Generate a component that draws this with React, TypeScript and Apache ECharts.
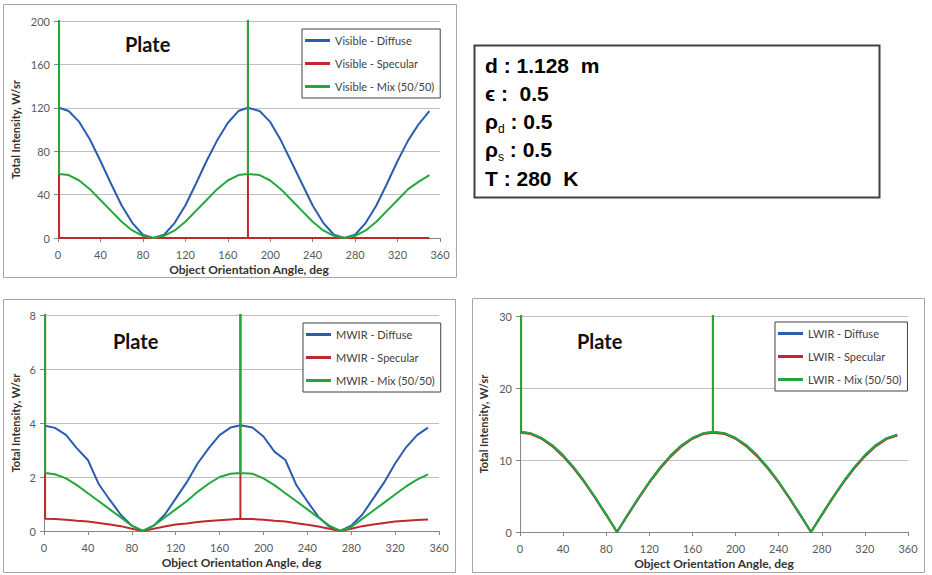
import React, { useEffect, useRef } from "react";
import * as echarts from "echarts";

// Sample angles (deg); the specular peaks sit at 0 and 179 (179 repeated so the spike is one thin vertical)
const angles = [0, 1, 10, 20, 30, 40, 50, 60, 70, 80, 90, 100, 110, 120, 130, 140, 150, 160, 170, 179, 179, 179, 190, 200, 210, 220, 230, 240, 250, 260, 270, 280, 290, 300, 310, 320, 330, 340, 350];

// Visible band, W/sr (5000 = specular spike, far off scale)
const visibleDiffuse = [120, 120, 117, 107, 91, 71, 50, 30, 14, 3, 0, 3, 14, 30, 50, 71, 90, 106, 117, 120, 120, 120, 117, 107, 90, 70, 50, 30, 14, 3, 0, 3, 14, 30, 50, 71, 90, 105, 117];
const visibleSpecular = [5000, 0, 0, 0, 0, 0, 0, 0, 0, 0, 0, 0, 0, 0, 0, 0, 0, 0, 0, 0, 5000, 0, 0, 0, 0, 0, 0, 0, 0, 0, 0, 0, 0, 0, 0, 0, 0, 0, 0];
const visibleMix = [5000, 59, 58, 53, 45, 35, 25, 15, 7, 2, 0, 2, 7, 15, 25, 35, 45, 53, 58, 59, 5000, 59, 58, 53, 45, 35, 25, 15, 7, 2, 0, 2, 7, 15, 25, 35, 45, 52, 58];

// MWIR band, W/sr
const mwirDiffuse = [3.9, 3.9, 3.82, 3.56, 3.06, 2.63, 1.73, 1.15, 0.6, 0.2, 0, 0.2, 0.6, 1.2, 1.8, 2.5, 3.06, 3.55, 3.83, 3.92, 3.92, 3.92, 3.83, 3.5, 2.94, 2.63, 1.7, 1.1, 0.53, 0.16, 0, 0.2, 0.6, 1.2, 1.8, 2.5, 3.1, 3.55, 3.83];
const mwirSpecular = [5000, 0.45, 0.44, 0.42, 0.38, 0.35, 0.3, 0.24, 0.18, 0.08, 0, 0.08, 0.17, 0.24, 0.28, 0.33, 0.37, 0.4, 0.43, 0.45, 5000, 0.45, 0.44, 0.42, 0.38, 0.35, 0.29, 0.23, 0.17, 0.08, 0, 0.08, 0.18, 0.24, 0.3, 0.35, 0.38, 0.41, 0.43];
const mwirMix = [5000, 2.15, 2.1, 1.95, 1.7, 1.4, 1.1, 0.8, 0.5, 0.2, 0, 0.2, 0.5, 0.8, 1.1, 1.45, 1.75, 2.0, 2.12, 2.15, 5000, 2.15, 2.12, 1.95, 1.7, 1.4, 1.1, 0.8, 0.5, 0.2, 0, 0.15, 0.45, 0.75, 1.05, 1.35, 1.65, 1.9, 2.1];

// LWIR band, W/sr
const lwirDiffuse = [13.9, 13.9, 13.7, 13.06, 12.04, 10.65, 8.93, 6.95, 4.75, 2.41, 0, 2.41, 4.75, 6.95, 8.93, 10.65, 12.04, 13.06, 13.7, 13.9, 13.9, 13.9, 13.7, 13.06, 12.04, 10.65, 8.93, 6.95, 4.75, 2.41, 0, 2.41, 4.75, 6.95, 8.93, 10.65, 12.04, 13.0, 13.5];
const lwirSpecular = [5000, 13.8, 13.6, 12.95, 11.9, 10.5, 8.8, 6.85, 4.65, 2.35, 0, 2.35, 4.65, 6.85, 8.8, 10.5, 11.9, 12.95, 13.6, 13.8, 5000, 13.8, 13.6, 12.95, 11.9, 10.5, 8.8, 6.85, 4.65, 2.35, 0, 2.35, 4.65, 6.85, 8.8, 10.5, 11.9, 12.9, 13.4];
const lwirMix = [5000, 13.9, 13.7, 13.06, 12.04, 10.65, 8.93, 6.95, 4.75, 2.41, 0, 2.41, 4.75, 6.95, 8.93, 10.65, 12.04, 13.06, 13.7, 13.9, 5000, 13.9, 13.7, 13.06, 12.04, 10.65, 8.93, 6.95, 4.75, 2.41, 0, 2.41, 4.75, 6.95, 8.93, 10.65, 12.04, 13.0, 13.5];

const bands = ["Visible", "MWIR", "LWIR"];
const kinds = ["Diffuse", "Specular", "Mix (50/50)"];
const yMax = [200, 8, 30];
const yInterval = [40, 2, 10];
const xTicks = { min: 0, max: 360, interval: 40 };
const bandData = [
  [visibleDiffuse, visibleSpecular, visibleMix],
  [mwirDiffuse, mwirSpecular, mwirMix],
  [lwirDiffuse, lwirSpecular, lwirMix],
];
const infoLines = ["d : 1.128  m", "ϵ :  0.5", "ρ{sub|d} : 0.5", "ρ{sub|s} : 0.5", "T : 280  K"];

const COLORS = ["#2a5db0", "#c0282c", "#22a83a"];
const FONT = "Lato, 'Open Sans', sans-serif";

export default function App() {
  const ref = useRef<HTMLDivElement>(null);
  useEffect(() => {
    if (!ref.current) return;
    const chart = echarts.init(ref.current, null, { renderer: "svg" });

    const grids = [
      { left: 58, top: 21, width: 382, height: 217 },
      { left: 44, top: 315, width: 395, height: 216 },
      { left: 520, top: 316, width: 388, height: 216 },
    ];
    const yNameGap = [37, 23, 31];
    const legendPos = [
      { left: 302, top: 29 },
      { left: 303, top: 323 },
      { left: 775, top: 322 },
    ];
    const platePos = [
      { left: 125, top: 34 },
      { left: 113, top: 331 },
      { left: 577, top: 331 },
    ];

    const axisLine = { show: true, lineStyle: { color: "#868686", width: 1 } };
    const axisTick = { show: true, length: 4, lineStyle: { color: "#868686" } };
    const axisLabel = { color: "#595959", fontSize: 11, fontFamily: FONT };
    const nameStyle = { fontWeight: "bold", fontSize: 12, color: "#333", fontFamily: FONT };

    const xAxis = grids.map((_, i) => ({
      type: "value",
      gridIndex: i,
      min: xTicks.min,
      max: xTicks.max,
      interval: xTicks.interval,
      axisLine,
      axisTick,
      axisLabel: { ...axisLabel, margin: 11 },
      splitLine: { show: false },
      name: "Object Orientation Angle, deg",
      nameLocation: "middle",
      nameGap: 25,
      nameTextStyle: nameStyle,
    }));
    const yAxis = grids.map((_, i) => ({
      type: "value",
      gridIndex: i,
      min: 0,
      max: yMax[i],
      interval: yInterval[i],
      axisLine,
      axisTick,
      axisLabel: { ...axisLabel, margin: 8 },
      splitLine: { show: true, lineStyle: { color: "#bfbfbf", width: 1 } },
      name: "Total Intensity, W/sr",
      nameLocation: "middle",
      nameGap: yNameGap[i],
      nameTextStyle: { ...nameStyle, fontSize: 11 },
    }));

    const series: any[] = [];
    bands.forEach((band, b) => {
      kinds.forEach((kind, k) => {
        series.push({
          type: "line",
          name: `${band} - ${kind}`,
          xAxisIndex: b,
          yAxisIndex: b,
          data: angles.map((a, j) => [a, bandData[b][k][j]]),
          symbol: "none",
          clip: true,
          lineStyle: { color: COLORS[k], width: 2 },
          itemStyle: { color: COLORS[k] },
          z: 2 + k,
        });
      });
    });

    const legend = bands.map((band, b) => ({
      ...legendPos[b],
      orient: "vertical",
      data: kinds.map((k) => `${band} - ${k}`),
      icon: "rect",
      itemWidth: 25,
      itemHeight: 3,
      itemGap: 10,
      padding: [5, 6, 5, 3],
      borderColor: "#404040",
      borderWidth: 1,
      backgroundColor: "#ffffff",
      textStyle: { fontFamily: FONT, fontSize: 11, color: "#404040", lineHeight: 13 },
      selectedMode: false,
    }));

    const title = platePos.map((p) => ({
      text: "Plate",
      ...p,
      padding: 0,
      textStyle: { fontFamily: FONT, fontWeight: "bold", fontSize: 20, color: "#111" },
    }));

    const graphic: any[] = [
      { type: "rect", shape: { x: 3.5, y: 4.5, width: 453, height: 273 }, style: { fill: "none", stroke: "#a6a6a6", lineWidth: 1 }, z: 0 },
      { type: "rect", shape: { x: 3.5, y: 299.5, width: 452, height: 273 }, style: { fill: "none", stroke: "#a6a6a6", lineWidth: 1 }, z: 0 },
      { type: "rect", shape: { x: 472.5, y: 298.5, width: 452, height: 274 }, style: { fill: "none", stroke: "#a6a6a6", lineWidth: 1 }, z: 0 },
      { type: "rect", shape: { x: 474.5, y: 45.5, width: 405, height: 152 }, style: { fill: "#fff", stroke: "#404040", lineWidth: 2 }, z: 0 },
    ];
    infoLines.forEach((t, i) => {
      graphic.push({
        type: "text",
        x: 485,
        y: 65 + i * 28.3,
        z: 5,
        style: {
          text: t,
          fill: "#000",
          font: "bold 21px 'Liberation Sans', Arial, sans-serif",
          verticalAlign: "middle",
          rich: {
            sub: {
              fontSize: 12,
              fontWeight: "normal",
              fontFamily: "'Liberation Sans', Arial, sans-serif",
              fill: "#000",
              padding: [14, 0, 0, 0],
            },
          },
        },
      });
    });

    chart.setOption({
      animation: false,
      backgroundColor: "#ffffff",
      grid: grids,
      xAxis,
      yAxis,
      series,
      legend,
      title,
      graphic,
    });
    return () => chart.dispose();
  }, []);

  return (
    <div
      ref={ref}
      style={{ position: "fixed", left: 0, top: 0, width: 932, height: 575 }}
    />
  );
}
